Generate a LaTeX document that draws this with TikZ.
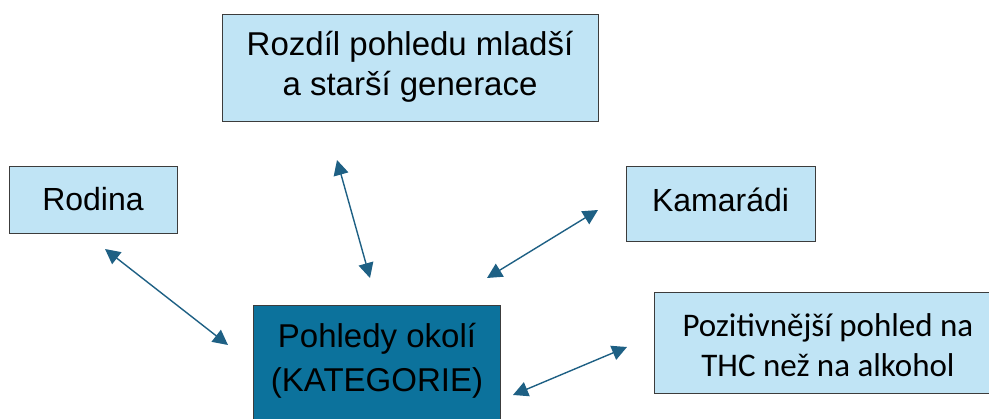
\documentclass[tikz,border=0pt]{standalone}
\usepackage{fontspec}
\setmainfont{Liberation Sans}
\newfontfamily\calib{Carlito}
\usetikzlibrary{arrows.meta}
\definecolor{lightbox}{RGB}{192,228,245}
\definecolor{darkbox}{RGB}{12,114,156}
\definecolor{boxline}{RGB}{60,60,60}
\definecolor{arrcol}{RGB}{30,96,132}
\begin{document}
\begin{tikzpicture}[x=1pt,y=-1pt,
  lbox/.style={draw=boxline,line width=0.8pt,fill=lightbox,align=center,inner sep=0pt},
  dbox/.style={draw=boxline,line width=0.8pt,fill=darkbox,align=center,inner sep=0pt},
  conn/.style={arrcol,line width=1.4pt,{Triangle[length=15pt,width=15pt]}-{Triangle[length=15pt,width=15pt]}}]
\useasboundingbox (0,0) rectangle (989,419);
\node[lbox,minimum width=376pt,minimum height=107pt] (gen) at (410,67.5) {};
\node[font=\fontsize{33}{40}\selectfont,align=center] (gent) at (410,67) {Rozdíl pohledu mladší\\a starší generace};
\node[lbox,minimum width=168pt,minimum height=67pt,font=\fontsize{32}{38}\selectfont] (rod) at (93,199.5) {Rodina};
\node[lbox,minimum width=189pt,minimum height=75pt] (kam) at (720.5,203.5) {};
\node[font=\fontsize{32}{38}\selectfont] (kamt) at (720.5,199.5) {Kamarádi};
\node[dbox,minimum width=247pt,minimum height=125pt] (cat) at (377,367.5) {};
\node[font=\fontsize{33}{44}\selectfont,align=center] (catt) at (377,361) {Pohledy okolí\\(KATEGORIE)};
\node[lbox,minimum width=350pt,minimum height=101pt] (poz) at (829,342.5) {};
\node[font=\calib\fontsize{33}{40}\selectfont,align=center] (pozt) at (828,345) {Pozitivnější pohled na\\THC než na alkohol};
\coordinate (r1) at (105,249);
\coordinate (r2) at (228,345);
\coordinate (g1) at (337,160);
\coordinate (g2) at (370,278);
\coordinate (k1) at (598,210);
\coordinate (k2) at (487,278);
\coordinate (p1) at (627,347);
\coordinate (p2) at (513,395);
\draw[conn] (r1) -- (r2);
\draw[conn] (g1) -- (g2);
\draw[conn] (k1) -- (k2);
\draw[conn] (p1) -- (p2);
\end{tikzpicture}
\end{document}
